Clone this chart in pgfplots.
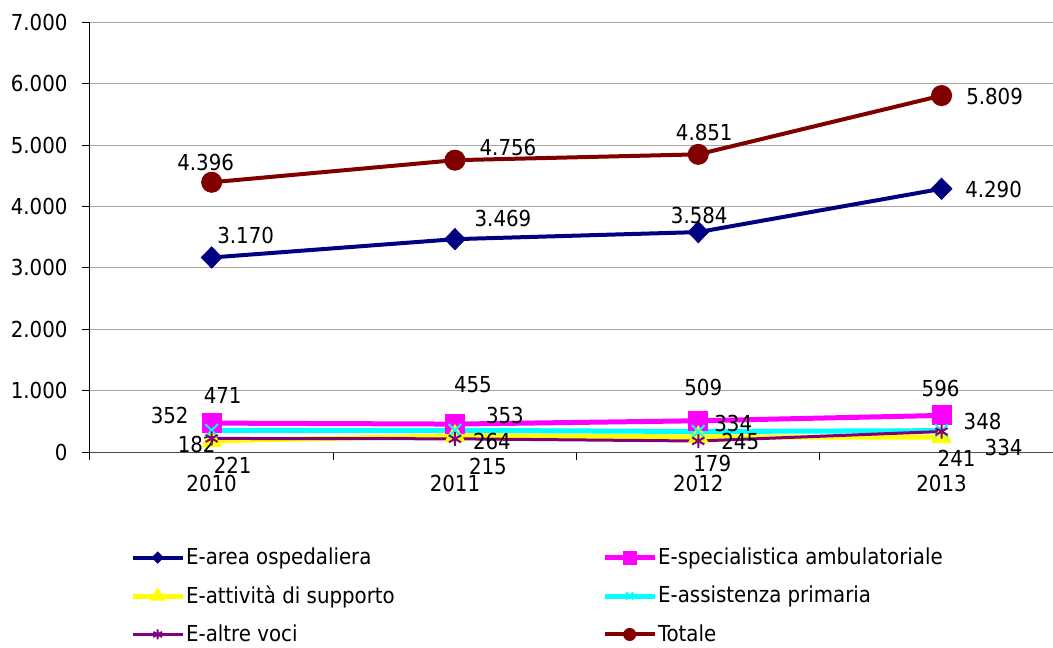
\documentclass[border=0pt]{standalone}
\usepackage{pgfplots}
\pgfplotsset{compat=1.18}
\usepackage{pgfplotstable}
\usepackage{fontspec}
\setmainfont{DejaVu Sans Condensed}

\definecolor{cOsp}{RGB}{0,0,128}
\definecolor{cSpe}{RGB}{255,0,255}
\definecolor{cSup}{RGB}{255,255,0}
\definecolor{cPri}{RGB}{0,255,255}
\definecolor{cAlt}{RGB}{128,0,128}
\definecolor{cTot}{RGB}{128,0,0}

% x = anno (0=2010), y = valore, dx/up = spostamento etichetta (pt)
\pgfplotstableread{
x y dx up
0 3170 34 22
1 3469 48 21
2 3584 1 17
3 4290 52 -1
}\osp
\pgfplotstableread{
x y dx up
0 471 11 28
1 455 18 39
2 509 5 33
3 596 -1 27
}\spe
\pgfplotstableread{
x y dx up
0 182 -15 -4
1 264 37 -6
2 245 42 -5
3 241 15 -21
}\sup
\pgfplotstableread{
x y dx up
0 352 -42 15
1 353 50 15
2 334 35 8
3 348 41 9
}\pri
\pgfplotstableread{
x y dx up
0 221 21 -27
1 215 33 -28
2 179 14 -22
3 334 62 -16
}\alt
\pgfplotstableread{
x y dx up
0 4396 -6 20
1 4756 53 13
2 4851 6 22
3 5809 53 -1
}\tot

\pgfplotsset{
  lbl/.style={
    nodes near coords={\pgfmathprintnumber[fixed,precision=0,1000 sep={.}]{\pgfplotspointmeta}},
    visualization depends on={\thisrow{dx}\as\dx},
    visualization depends on={\thisrow{up}\as\up},
    every node near coord/.append style={text=black, anchor=center, inner sep=0pt,
      xshift=\dx pt, yshift=\up pt},
  },
}

\begin{document}
\fontsize{22pt}{26pt}\selectfont
\begin{tikzpicture}
\useasboundingbox (-90pt,-196pt) rectangle (963pt,452pt);
\begin{axis}[
  at={(0pt,0pt)}, anchor=south west,
  scale only axis,
  width=963pt, height=429.5pt,
  xmin=-0.5, xmax=3.458,
  ymin=0, ymax=7000,
  clip=false,
  axis x line*=bottom, axis y line*=left,
  axis line style={-, line width=1pt},
  x axis line style={draw=black!70},
  /pgf/number format/1000 sep={.},
  /pgf/number format/assume math mode=true,
  scaled y ticks=false,
  ytick={0,1000,...,7000},
  yticklabel style={xshift=-7pt},
  tick align=outside, major tick length=8pt,
  tick style={black, line width=1pt},
  ymajorgrids,
  major grid style={black!35, line width=1pt},
  xtick={-0.5,0.5,1.5,2.5}, xticklabels={},
  extra x ticks={0,1,2,3},
  extra x tick labels={2010,2011,2012,2013},
  extra x tick style={major tick length=0pt, xticklabel style={yshift=-16pt}},
  legend columns=2,
  legend cell align=left,
  legend style={draw=none, fill=none, at={(0.0384,-0.215)}, anchor=north west,
    row sep=16pt, /tikz/column sep=0pt, nodes={inner sep=1pt}},
  legend image code/.code={%
    \draw[mark repeat=2,mark phase=2,#1]
      plot coordinates {(0pt,0pt) (25pt,0pt) (50pt,0pt)};},
]
\addplot[cOsp, line width=4pt, mark=diamond*, mark size=10.5pt,
  mark options={solid, fill=cOsp, line width=1pt, xscale=1.3},
  legend image post style={mark size=5.5pt}, lbl]
  table[x=x,y=y] {\osp};
\addlegendentry{\makebox[415pt][l]{E-area ospedaliera}}
\addplot[cSpe, line width=5pt, mark=square*, mark size=9.5pt,
  mark options={solid, fill=cSpe, line width=1pt},
  legend image post style={mark size=6.5pt}, lbl]
  table[x=x,y=y] {\spe};
\addlegendentry{E-specialistica ambulatoriale}
\addplot[cSup, line width=5pt, mark=triangle*, mark size=11pt,
  mark options={solid, fill=cSup, line width=1pt},
  legend image post style={mark size=8pt}, lbl]
  table[x=x,y=y] {\sup};
\addlegendentry{\makebox[415pt][l]{E-attività di supporto}}
\addplot[cPri, line width=5pt, mark=x, mark size=9pt,
  mark options={solid, line width=2pt},
  legend image post style={mark size=5pt}, lbl]
  table[x=x,y=y] {\pri};
\addlegendentry{E-assistenza primaria}
\addplot[cAlt, line width=3pt, mark=asterisk, mark size=7pt,
  mark options={solid, line width=2pt},
  legend image post style={mark size=5pt}, lbl]
  table[x=x,y=y] {\alt};
\addlegendentry{\makebox[415pt][l]{E-altre voci}}
\addplot[cTot, line width=4pt, mark=*, mark size=10pt,
  mark options={solid, fill=cTot, line width=1pt},
  legend image post style={mark size=6pt}, lbl]
  table[x=x,y=y] {\tot};
\addlegendentry{Totale}
\end{axis}
\end{tikzpicture}
\end{document}
